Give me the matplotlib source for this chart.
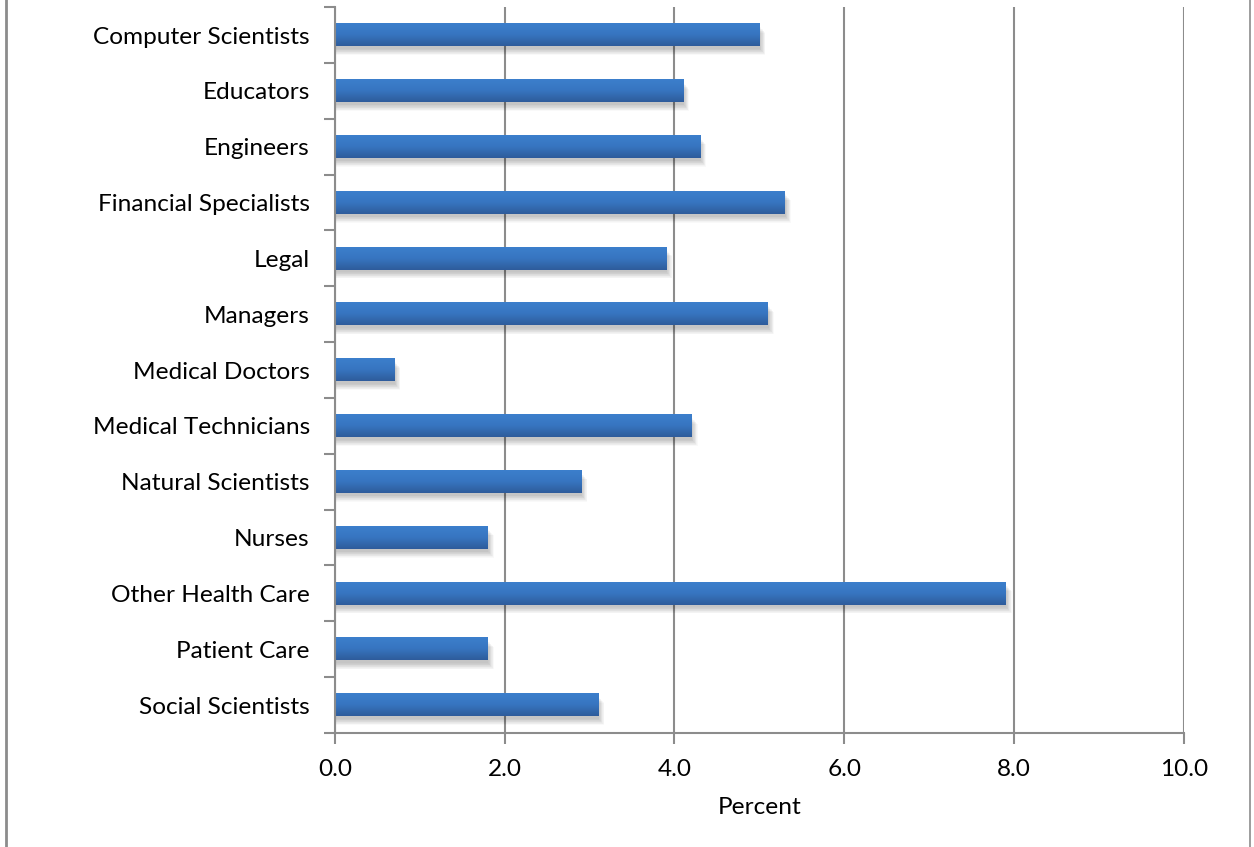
import numpy as np
import matplotlib.pyplot as plt
from matplotlib.lines import Line2D
from matplotlib.colors import LinearSegmentedColormap

occupations = [
    "Computer Scientists", "Educators", "Engineers", "Financial Specialists",
    "Legal", "Managers", "Medical Doctors", "Medical Technicians",
    "Natural Scientists", "Nurses", "Other Health Care", "Patient Care",
    "Social Scientists",
]
percent = [5.0, 4.1, 4.3, 5.3, 3.9, 5.1, 0.7, 4.2, 2.9, 1.8, 7.9, 1.8, 3.1]
xticks = [0, 2, 4, 6, 8, 10]

plt.rcParams['font.family'] = ['Lato', 'DejaVu Sans']
grey = '#8c8c8c'
fs = 17.6

fig = plt.figure(figsize=(12.54, 8.47), dpi=100)
ax = fig.add_axes([0.267, 0.1346, 0.677, 0.857])

y = np.arange(len(occupations))
h = 0.4

# soft drop shadow under each bar
for k in range(10):
    ax.barh(y + 0.05 + k * 0.012, np.array(percent) + 0.01 + k * 0.007, height=h,
            color='black', alpha=0.025, linewidth=0, zorder=2)

bars = ax.barh(y, percent, height=h, color='#3570b8', linewidth=0, zorder=3)

# vertical gradient, lighter on top
cmap = LinearSegmentedColormap.from_list('bar', ['#3c7fcc', '#3775c0', '#2e5c9b'])
grad = np.linspace(0, 1, 64).reshape(-1, 1)
for b in bars:
    x0, y0, w, hh = b.get_x(), b.get_y(), b.get_width(), b.get_height()
    # y axis is inverted: y0 is visually the top edge
    ax.imshow(grad, cmap=cmap, aspect='auto', extent=(x0, x0 + w, y0 + hh, y0),
              zorder=4, interpolation='bilinear')

ax.set_xlim(0, 10)
ax.set_ylim(len(occupations) - 0.5, -0.5)
ax.set_aspect('auto')

ax.set_yticks(y)
ax.set_yticklabels(occupations, fontsize=fs)
ax.set_yticks(np.arange(len(occupations) + 1) - 0.5, minor=True)
ax.tick_params(axis='y', which='major', length=0, pad=18)
ax.tick_params(axis='y', which='minor', length=8, width=1.5, color=grey, direction='out')

ax.set_xticks(xticks)
ax.set_xticklabels([f"{v:.1f}" for v in xticks], fontsize=fs)
ax.tick_params(axis='x', length=8, width=1.5, color=grey, direction='out', pad=11)
ax.set_xlabel("Percent", fontsize=fs, labelpad=12)

ax.grid(axis='x', color=grey, linewidth=1.5, zorder=1)
ax.set_axisbelow(True)
for side in ['top', 'right']:
    ax.spines[side].set_visible(False)
for side in ['left', 'bottom']:
    ax.spines[side].set_color(grey)
    ax.spines[side].set_linewidth(1.5)
    ax.spines[side].set_zorder(5)

# chart frame (left and right edges)
fig.add_artist(Line2D([0.0048, 0.0048], [0, 1], color=grey, linewidth=2, transform=fig.transFigure))
fig.add_artist(Line2D([0.9968, 0.9968], [0, 1], color=grey, linewidth=1.2, transform=fig.transFigure))

fig.savefig('out.png', dpi=100)
